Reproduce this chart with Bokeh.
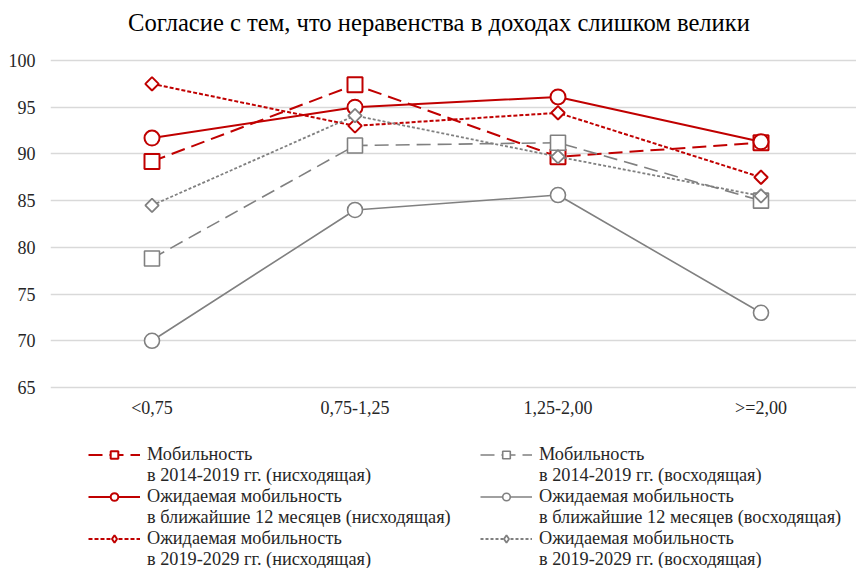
from bokeh.plotting import figure
from bokeh.models import Range1d, FixedTicker, Legend, LegendItem, Label
from bokeh.embed import file_html
from bokeh.resources import INLINE
import numpy as np

title_text = "Согласие с тем, что неравенства в доходах слишком велики"
categories = ["<0,75", "0,75-1,25", "1,25-2,00", ">=2,00"]

mob_down = [89.2, 97.4, 89.7, 91.2]
exp12_down = [91.7, 95.0, 96.1, 91.3]
exp10_down = [97.5, 93.0, 94.4, 87.5]
mob_up = [78.8, 90.9, 91.2, 85.0]
exp12_up = [70.0, 84.0, 85.6, 73.0]
exp10_up = [84.5, 94.1, 89.7, 85.5]

y_ticks = [65, 70, 75, 80, 85, 90, 95, 100]

label_line1 = ["Мобильность", "Ожидаемая мобильность", "Ожидаемая мобильность",
               "Мобильность", "Ожидаемая мобильность", "Ожидаемая мобильность"]
label_line2 = ["в 2014-2019 гг. (нисходящая)", "в ближайшие 12 месяцев (нисходящая)",
               "в 2019-2029 гг. (нисходящая)", "в 2014-2019 гг. (восходящая)",
               "в ближайшие 12 месяцев (восходящая)", "в 2019-2029 гг. (восходящая)"]

RED = "#c00000"
GRAY = "#808080"
SERIF = "Liberation Serif"

W, H = 856, 568
LEFT = 50
TOP_PX, BOT_PX = 60.0, 387.0          # pixel rows of the 100 and 65 gridlines
ppu = (BOT_PX - TOP_PX) / (y_ticks[-1] - y_ticks[0])
y_start = y_ticks[0] - (H - BOT_PX) / ppu
y_end = y_ticks[-1] + TOP_PX / ppu

p = figure(width=W, height=H, output_backend="svg", toolbar_location=None,
           x_range=Range1d(0, (W - LEFT) / 203.0), y_range=Range1d(y_start, y_end),
           min_border_left=LEFT, min_border_right=0, min_border_top=0,
           min_border_bottom=0)
p.outline_line_color = None
p.background_fill_color = "white"
p.border_fill_color = "white"

p.add_layout(Label(x=388.5, y=H - 22, x_units="screen", y_units="screen",
                   text=title_text, text_font=SERIF, text_font_size="24.6px",
                   text_color="#000000", text_align="center",
                   text_baseline="middle"))

xs = [i + 0.5 for i in range(len(categories))]

series = [
    (mob_down, RED, 2.0, "14 7", "square", 15, 0.0, "square"),
    (exp12_down, RED, 2.0, "solid", "circle", 15, 0.0, "circle"),
    (exp10_down, RED, 2.0, "4 2", "square", 9.5, np.pi / 4, "diamond"),
    (mob_up, GRAY, 1.6, "14 7", "square", 15, 0.0, "square"),
    (exp12_up, GRAY, 1.6, "solid", "circle", 15, 0.0, "circle"),
    (exp10_up, GRAY, 1.8, "3 2", "square", 9.5, np.pi / 4, "diamond"),
]

items = []
for k, (vals, col, lw, dash, mk, sz, ang, leg_mk) in enumerate(series):
    lr = p.line(xs, vals, line_color=col, line_width=lw, line_dash=dash)
    sr = p.scatter(xs, vals, marker=mk, size=sz, angle=ang, line_color=col,
                   line_width=lw, fill_color="white")
    if leg_mk == mk:
        leg_r = sr
    else:
        # legend-only diamond: same points, zero size in the plot
        leg_r = p.scatter(xs, vals, marker=leg_mk, size=0, line_color=col,
                          line_width=lw, fill_color="white")
    dummy = p.line([], [], line_alpha=0)
    items.append((LegendItem(label=label_line1[k], renderers=[lr, leg_r]),
                  LegendItem(label=label_line2[k], renderers=[dummy])))

ordered = []
for a, b in items:
    ordered.append(a)
    ordered.append(b)

# category labels under the plot area
p.text(x=xs, y=[y_ticks[0]] * len(xs), text=categories, y_offset=20,
       text_align="center", text_baseline="middle", text_font=SERIF,
       text_font_size="18px", text_color="#262626")

legend = Legend(items=ordered, location=(38, -2), orientation="vertical",
                ncols=2, nrows=6, padding=0, margin=0, spacing=0,
                label_height=19, glyph_height=19, glyph_width=52,
                label_standoff=7, label_width=333,
                label_text_font=SERIF, label_text_font_size="18.3px",
                label_text_color="#262626", label_text_baseline="middle",
                border_line_alpha=0, background_fill_alpha=0)
p.add_layout(legend, "center")

p.xaxis.visible = False
p.yaxis.ticker = FixedTicker(ticks=y_ticks)
ax = p.yaxis[0]
ax.axis_line_color = None
ax.major_tick_line_color = None
ax.minor_tick_line_color = None
ax.major_tick_out = 0
ax.major_tick_in = 0
ax.major_label_text_font = SERIF
ax.major_label_text_font_size = "18px"
ax.major_label_text_color = "#262626"
ax.major_label_standoff = 15

p.xgrid.grid_line_color = None
p.ygrid.grid_line_color = "#d9d9d9"
p.ygrid.grid_line_width = 1.5

open("out.html", "w").write(file_html(p, INLINE))
